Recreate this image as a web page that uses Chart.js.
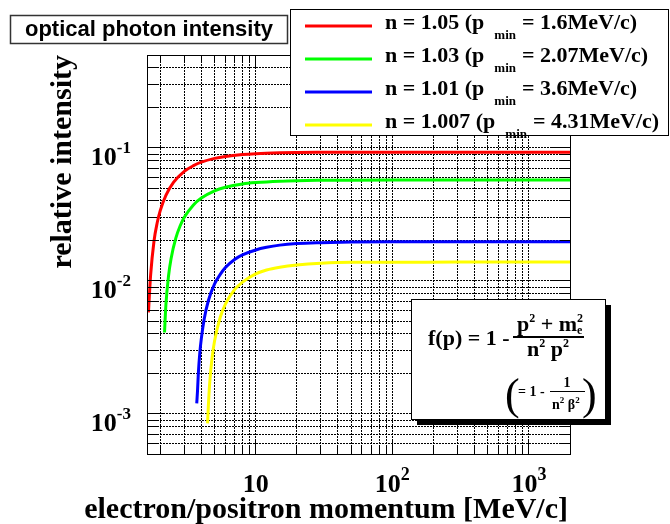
<!DOCTYPE html>
<html>
<head>
<meta charset="utf-8">
<title>optical photon intensity</title>
<script src="https://cdn.jsdelivr.net/npm/chart.js@4.4.1/dist/chart.umd.min.js"></script>
<style>
  html, body { margin: 0; padding: 0; background: #fff; }
  #wrap { width: 670px; height: 524px; }
</style>
</head>
<body>
<div id="wrap"><canvas id="chart" width="670" height="524"></canvas></div>
<script>
// ---- data ----
const momentumN105 = [1.64, 1.7, 1.8, 1.9, 2.0, 2.2, 2.5, 3, 3.5, 4, 5, 6, 8, 10, 15, 20, 30, 50, 100, 300, 2000];
const intensityN105 = [0.0058, 0.0110, 0.0199, 0.0274, 0.0338, 0.0440, 0.0551, 0.0667, 0.0736, 0.0782, 0.0835, 0.0864, 0.0893, 0.0906, 0.0919, 0.0924, 0.0927, 0.0929, 0.0930, 0.0930, 0.0930];

const momentumN103 = [2.15, 2.2, 2.3, 2.4, 2.6, 2.8, 3, 3.5, 4, 5, 6, 8, 10, 15, 20, 30, 50, 100, 300, 2000];
const intensityN103 = [0.0041, 0.0066, 0.0109, 0.0147, 0.0210, 0.0260, 0.0301, 0.0373, 0.0420, 0.0476, 0.0506, 0.0536, 0.0549, 0.0563, 0.0568, 0.0571, 0.0573, 0.0574, 0.0574, 0.0574];

const momentumN101 = [3.7, 3.75, 3.8, 3.9, 4.0, 4.2, 4.5, 5, 5.5, 6, 7, 8, 10, 12, 15, 20, 30, 50, 100, 300, 2000];
const intensityN101 = [0.0012, 0.0015, 0.0020, 0.0029, 0.0037, 0.0052, 0.0071, 0.0095, 0.0112, 0.0126, 0.0145, 0.0157, 0.0171, 0.0179, 0.0186, 0.0191, 0.0194, 0.0196, 0.0197, 0.0197, 0.0197];

const momentumN1007 = [4.44, 4.5, 4.6, 4.8, 5, 5.5, 6, 7, 8, 10, 12, 15, 20, 30, 50, 100, 300, 2000];
const intensityN1007 = [0.00085, 0.00114, 0.00169, 0.00268, 0.00355, 0.00534, 0.0067, 0.0086, 0.0098, 0.0113, 0.0121, 0.0127, 0.0132, 0.0136, 0.0138, 0.0138, 0.0139, 0.0139];

const refractiveIndex = ['1.05', '1.03', '1.01', '1.007'];
const thresholdMomentum = ['1.6', '2.07', '3.6', '4.31'];
const seriesColors = ['#ff0000', '#00ff00', '#0000ff', '#ffff00'];

// grid / tick positions
const xGridValues = [2, 3, 4, 5, 6, 7, 8, 9, 10, 20, 30, 40, 50, 60, 70, 80, 90, 100, 200, 300, 400, 500, 600, 700, 800, 900, 1000, 2000];
const yGridValues = [0.0006, 0.0007, 0.0008, 0.0009, 0.001, 0.002, 0.003, 0.004, 0.005, 0.006, 0.007, 0.008, 0.009,
  0.01, 0.02, 0.03, 0.04, 0.05, 0.06, 0.07, 0.08, 0.09, 0.1, 0.2, 0.3, 0.4];
const xLabelValues = [10, 100, 1000];
const xLabelText = [['10', ''], ['10', '2'], ['10', '3']];
const yLabelValues = [0.1, 0.01, 0.001];
const yLabelText = [['10', '-1'], ['10', '-2'], ['10', '-3']];

const SERIF = "'Liberation Serif', 'Times New Roman', serif";
const SANS = "'Liberation Sans', Arial, sans-serif";

function toPoints(xs, ys) {
  return xs.map((x, i) => ({ x: x, y: ys[i] }));
}

const seriesData = [
  toPoints(momentumN105, intensityN105),
  toPoints(momentumN103, intensityN103),
  toPoints(momentumN101, intensityN101),
  toPoints(momentumN1007, intensityN1007)
];

function isDecade(v) {
  const l = Math.log10(v);
  return Math.abs(l - Math.round(l)) < 1e-9;
}

function align(p) {
  return Math.round(p - 0.5) + 0.5;
}

function line(ctx, x1, y1, x2, y2) {
  ctx.beginPath();
  ctx.moveTo(x1, y1);
  ctx.lineTo(x2, y2);
  ctx.stroke();
}

// draws a list of [text, font, dy] runs one after another, returns end x
function drawRuns(ctx, x, y, runs) {
  runs.forEach(r => {
    ctx.font = r[1];
    if (r[3]) x += r[3];
    ctx.fillText(r[0], x, y + (r[2] || 0));
    x += ctx.measureText(r[0]).width;
  });
  return x;
}

function runsWidth(ctx, runs) {
  let w = 0;
  runs.forEach(r => {
    ctx.font = r[1];
    w += ctx.measureText(r[0]).width + (r[3] || 0);
  });
  return w;
}

const decorPlugin = {
  id: 'decor',
  beforeDraw(chart) {
    const ctx = chart.ctx;
    ctx.save();
    ctx.fillStyle = '#fff';
    ctx.fillRect(0, 0, chart.width, chart.height);
    ctx.restore();
  },
  afterDraw(chart) {
    const ctx = chart.ctx;
    const xs = chart.scales.x, ys = chart.scales.y;
    const { left, right, top, bottom } = chart.chartArea;

    ctx.save();
    ctx.strokeStyle = '#000';
    ctx.fillStyle = '#000';
    ctx.lineWidth = 1;

    // frame
    ctx.strokeRect(align(left), align(top), Math.round(right - left), Math.round(bottom - top));

    // solid tick marks on all four sides
    xs.ticks.forEach(t => {
      const px = align(xs.getPixelForValue(t.value));
      const len = isDecade(t.value) ? 14 : 7;
      line(ctx, px, bottom, px, bottom - len);
      line(ctx, px, top, px, top + len);
    });
    ys.ticks.forEach(t => {
      const py = align(ys.getPixelForValue(t.value));
      const len = isDecade(t.value) ? 18 : 10;
      line(ctx, left, py, left + len, py);
      line(ctx, right, py, right - len, py);
    });

    // tick labels
    ctx.textBaseline = 'alphabetic';
    ctx.textAlign = 'left';
    const bigFont = 'bold 26px ' + SERIF;
    const supFont = 'bold 18px ' + SERIF;
    xLabelValues.forEach((v, i) => {
      const px = xs.getPixelForValue(v);
      const runs = [[xLabelText[i][0], bigFont, 0]];
      if (xLabelText[i][1]) runs.push([xLabelText[i][1], supFont, -12]);
      const w = runsWidth(ctx, runs);
      drawRuns(ctx, px - w / 2, 492, runs);
    });
    yLabelValues.forEach((v, i) => {
      const py = ys.getPixelForValue(v);
      const runs = [[yLabelText[i][0], bigFont, 0], [yLabelText[i][1], 'bold 17px ' + SERIF, -12]];
      const w = runsWidth(ctx, runs);
      drawRuns(ctx, 131 - w, py + 17, runs);
    });

    // axis titles
    ctx.font = 'bold 30px ' + SERIF;
    ctx.textAlign = 'right';
    ctx.fillText('electron/positron momentum [MeV/c]', 568, 518);
    ctx.save();
    ctx.translate(71, top);
    ctx.rotate(-Math.PI / 2);
    ctx.fillText('relative intensity', 0, 0);
    ctx.restore();
    ctx.textAlign = 'left';

    // title box
    ctx.fillStyle = '#fff';
    ctx.fillRect(10, 15, 278, 29);
    ctx.strokeStyle = '#333';
    ctx.lineWidth = 1.5;
    ctx.strokeRect(10.5, 15.5, 277, 28);
    ctx.fillStyle = '#000';
    ctx.font = 'bold 22px ' + SANS;
    ctx.fillText('optical photon intensity', 25, 36, 248);

    // legend
    ctx.lineWidth = 1;
    ctx.strokeStyle = '#000';
    ctx.fillStyle = '#fff';
    ctx.fillRect(290, 9, 378, 126);
    ctx.strokeRect(290.5, 9.5, 378, 126);
    chart.data.datasets.forEach((ds, i) => {
      const rowY = 26 + i * 33;
      ctx.strokeStyle = ds.borderColor;
      ctx.lineWidth = 3;
      line(ctx, 305, rowY, 372, rowY);
      ctx.fillStyle = '#000';
      const mainFont = 'bold 22px ' + SERIF;
      let x = drawRuns(ctx, 385, rowY + 3, [['n = ' + refractiveIndex[i] + ' (p', mainFont, 0]]);
      x = drawRuns(ctx, x + 10, rowY + 3, [['min', 'bold 13px ' + SERIF, 10]]);
      drawRuns(ctx, x + 6, rowY + 3, [['= ' + thresholdMomentum[i] + 'MeV/c)', mainFont, 0]]);
    });

    // formula box with shadow
    ctx.fillStyle = '#000';
    ctx.fillRect(417, 305, 194, 120);
    ctx.fillStyle = '#fff';
    ctx.fillRect(411, 299, 194, 121);
    ctx.strokeStyle = '#000';
    ctx.lineWidth = 1;
    ctx.strokeRect(411.5, 299.5, 194, 120);

    ctx.fillStyle = '#000';
    const fMain = 'bold 22px ' + SERIF;
    const fSup = 'bold 12px ' + SERIF;
    drawRuns(ctx, 428, 345, [['f(p) = 1 -', fMain, 0]]);
    ctx.lineWidth = 2;
    line(ctx, 513, 337, 584, 337);
    let nx = drawRuns(ctx, 517, 331, [['p', fMain, 0], ['2', fSup, -9], [' + m', fMain, 0]]);
    ctx.font = fSup;
    ctx.fillText('2', nx, 331 - 9);
    ctx.fillText('e', nx, 331 + 3);
    drawRuns(ctx, 527, 356, [['n', fMain, 0], ['2', fSup, -9], [' p', fMain, 0], ['2', fSup, -9]]);

    // (= 1 - 1/(n^2 beta^2))
    ctx.font = '44px ' + SERIF;
    ctx.fillText('(', 505, 409);
    ctx.fillText(')', 582, 409);
    const sMain = 'bold 14px ' + SERIF;
    const sSup = 'bold 9px ' + SERIF;
    drawRuns(ctx, 518, 396, [['= 1 -', sMain, 0]]);
    ctx.lineWidth = 1;
    line(ctx, 550, 391.5, 585, 391.5);
    ctx.font = sMain;
    ctx.textAlign = 'center';
    ctx.fillText('1', 567, 387);
    ctx.textAlign = 'left';
    drawRuns(ctx, 552, 409, [['n', sMain, 0], ['2', sSup, -6], [' \u03b2', sMain, 0], ['2', sSup, -6]]);

    ctx.restore();
  }
};

const ctx = document.getElementById('chart');

new Chart(ctx, {
  type: 'line',
  data: {
    datasets: seriesData.map((pts, i) => ({
      label: 'n = ' + refractiveIndex[i],
      data: pts,
      borderColor: seriesColors[i],
      backgroundColor: seriesColors[i],
      borderWidth: 3,
      pointRadius: 0,
      fill: false,
      cubicInterpolationMode: 'monotone'
    }))
  },
  options: {
    responsive: false,
    animation: false,
    devicePixelRatio: 1,
    layout: { padding: { left: 0, right: 100, top: 55, bottom: 0 } },
    plugins: {
      legend: { display: false },
      title: { display: false },
      tooltip: { enabled: false }
    },
    scales: {
      x: {
        type: 'logarithmic',
        min: 1.6,
        max: 2000,
        afterBuildTicks: s => { s.ticks = xGridValues.map(v => ({ value: v })); },
        afterFit: s => { s.height = 70; },
        ticks: { display: false },
        grid: { color: '#000', lineWidth: 1, drawTicks: false },
        border: { display: true, color: '#000', width: 1, dash: [2, 1] }
      },
      y: {
        type: 'logarithmic',
        min: 0.0005,
        max: 0.5,
        afterBuildTicks: s => { s.ticks = yGridValues.map(v => ({ value: v })); },
        afterFit: s => { s.width = 147; },
        ticks: { display: false },
        grid: { color: '#000', lineWidth: 1, drawTicks: false },
        border: { display: true, color: '#000', width: 1, dash: [2, 1] }
      }
    }
  },
  plugins: [decorPlugin]
});
</script>
</body>
</html>
